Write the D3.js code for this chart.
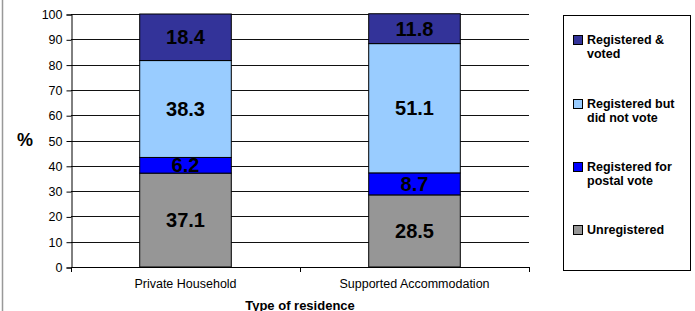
<!DOCTYPE html>
<html><head><meta charset="utf-8">
<script src="https://cdn.jsdelivr.net/npm/d3@7"></script>
<style>body{margin:0;background:#fff}svg{display:block;font-family:Arial,"Liberation Sans",sans-serif}</style>
</head><body><svg id="c" width="695" height="311"></svg>
<script>
const categories = ["Private Household", "Supported Accommodation"];
const seriesNames = ["Unregistered", "Registered for postal vote", "Registered but did not vote", "Registered & voted"];
const unregistered = [37.1, 28.5];
const postal = [6.2, 8.7];
const notVoted = [38.3, 51.1];
const voted = [18.4, 11.8];
const yTicks = [0,10,20,30,40,50,60,70,80,90,100];
const colors = ["#969696", "#0000FF", "#99CCFF", "#333399"];
const legendLabels = [["Registered &","voted"],["Registered but","did not vote"],["Registered for","postal vote"],["Unregistered"]];
const legendColors = ["#333399","#99CCFF","#0000FF","#969696"];

const svg = d3.select("#c");
const L=71, R=529, T=14, B=267;
const x = d3.scaleBand().domain(categories).range([L,R]).paddingInner(0).paddingOuter(0);
const y = d3.scaleLinear().domain([0,100]).range([B,T]);

// left frame line
svg.append("line").attr("x1",2.5).attr("x2",2.5).attr("y1",0).attr("y2",311).attr("stroke","#999").attr("stroke-width",1.5);

// grid
svg.append("g").selectAll("line").data(yTicks.filter(d=>d>0)).join("line")
  .attr("x1",L).attr("x2",R).attr("y1",d=>Math.round(y(d))+0.5).attr("y2",d=>Math.round(y(d))+0.5)
  .attr("stroke","#111").attr("stroke-width",1);

// y axis
const ya = svg.append("g").attr("transform",`translate(${L+0.5},0.5)`).call(d3.axisLeft(y).tickValues(yTicks).tickSize(5).tickPadding(4));
ya.select(".domain").attr("stroke","#000");
ya.selectAll("line").attr("stroke","#000");
ya.selectAll("text").attr("font-size",12.5).attr("font-family","Arial, Liberation Sans, sans-serif").attr("fill","#000");
// x axis
svg.append("line").attr("x1",L).attr("x2",R).attr("y1",B+0.5).attr("y2",B+0.5).attr("stroke","#000");
svg.append("g").selectAll("line").data([L, L+x.bandwidth(), R]).join("line")
  .attr("x1",d=>Math.round(d)+0.5).attr("x2",d=>Math.round(d)+0.5).attr("y1",B).attr("y2",B+5).attr("stroke","#000");
svg.append("g").selectAll("text").data(categories).join("text")
  .attr("x",d=>x(d)+x.bandwidth()/2).attr("y",288).attr("text-anchor","middle").attr("font-size",12.5).text(d=>d);

// stacked bars
const rows = categories.map((c,i)=>({cat:c, s0:unregistered[i], s1:postal[i], s2:notVoted[i], s3:voted[i]}));
const stack = d3.stack().keys(["s0","s1","s2","s3"])(rows);
const bw = x.bandwidth()*0.4;
stack.forEach((layer,li)=>{
  const g = svg.append("g");
  g.selectAll("rect").data(layer).join("rect")
    .attr("x",d=>x(d.data.cat)+x.bandwidth()/2-bw/2).attr("width",bw)
    .attr("y",d=>y(d[1])).attr("height",d=>y(d[0])-y(d[1]))
    .attr("fill",colors[li]).attr("stroke","#000").attr("stroke-width",1);
});
stack.forEach((layer,li)=>{
  svg.append("g").selectAll("text").data(layer).join("text")
    .attr("x",d=>x(d.data.cat)+x.bandwidth()/2).attr("y",d=>y((d[0]+d[1])/2)+7)
    .attr("text-anchor","middle").attr("font-size",20).attr("font-weight","bold").attr("fill","#000")
    .text(d=>(d[1]-d[0]).toFixed(1));
});

// axis titles
svg.append("text").attr("x",25).attr("y",146).attr("text-anchor","middle").attr("font-size",18).attr("font-weight","bold").text("%");
svg.append("text").attr("x",300).attr("y",309.5).attr("text-anchor","middle").attr("font-size",13).attr("font-weight","bold").text("Type of residence");

// legend
svg.append("rect").attr("x",563.5).attr("y",15.5).attr("width",127).attr("height",255).attr("fill","#fff").attr("stroke","#000");
const legY = [44, 108, 171, 234];
const lg = svg.append("g").selectAll("g").data(legendLabels).join("g").attr("transform",(d,i)=>`translate(0,${legY[i]})`);
lg.append("rect").attr("x",573.5).attr("y",-8.5).attr("width",9).attr("height",9).attr("fill",(d,i)=>legendColors[i]).attr("stroke","#000");
lg.each(function(d){
  const t = d3.select(this).append("text").attr("x",587).attr("y",0).attr("font-size",12.5).attr("font-weight","bold");
  d.forEach((line,k)=>t.append("tspan").attr("x",587).attr("dy",k?14:0).text(line));
});
</script></body></html>
